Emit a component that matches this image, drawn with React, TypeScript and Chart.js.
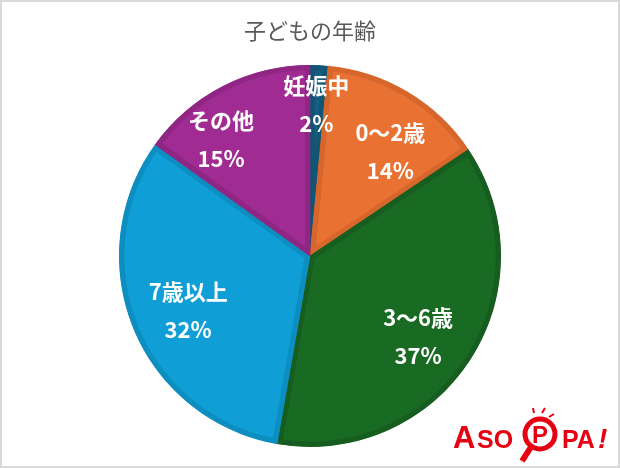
import React, { useEffect, useRef } from "react";
import { Chart, registerables } from "chart.js";

Chart.register(...registerables);

const TITLE = "子どもの年齢";
const categories = ["妊娠中", "0〜2歳", "3〜6歳", "7歳以上", "その他"];
const values = [1.5, 14, 37, 32, 15];
const colors = ["#156082", "#E97132", "#196B24", "#0F9ED5", "#A02B93"];
const borderColors = ["#125473", "#D6662C", "#165D1F", "#0D8EC0", "#8F2684"];
// per-slice label nudges (px) relative to mid-angle point at 70% radius
const labelOffsets = [
  [0, -18],
  [12, 11],
  [-4, 8],
  [2, 4],
  [-28, 3],
];

const FONT = '"Noto Sans CJK JP", "Noto Sans", sans-serif';

const overlayPlugin = {
  id: "overlay",
  afterDatasetsDraw(chart: any) {
    const ctx = chart.ctx as CanvasRenderingContext2D;
    const meta = chart.getDatasetMeta(0);
    const total = values.reduce((a, b) => a + b, 0);
    ctx.save();
    ctx.textAlign = "center";
    ctx.textBaseline = "middle";
    ctx.fillStyle = "#ffffff";
    ctx.font = `bold 22px ${FONT}`;
    meta.data.forEach((arc: any, i: number) => {
      const { x, y, startAngle, endAngle, outerRadius } = arc.getProps(
        ["x", "y", "startAngle", "endAngle", "outerRadius"],
        true
      );
      const mid = (startAngle + endAngle) / 2;
      const r = outerRadius * 0.7;
      const cx = x + Math.cos(mid) * r + labelOffsets[i][0];
      const cy = y + Math.sin(mid) * r + labelOffsets[i][1];
      const pct = Math.round((values[i] / total) * 100) + "%";
      ctx.fillText(categories[i], cx, cy - 19);
      ctx.fillText(pct, cx, cy + 19);
    });
    ctx.restore();
  },
  afterDraw(chart: any) {
    const ctx = chart.ctx as CanvasRenderingContext2D;
    const w = chart.width;
    const h = chart.height;
    ctx.save();
    // title
    ctx.fillStyle = "#595959";
    ctx.font = `22px ${FONT}`;
    ctx.textAlign = "center";
    ctx.textBaseline = "middle";
    ctx.fillText(TITLE, w / 2, 31);
    // frame
    ctx.strokeStyle = "#d9d9d9";
    ctx.lineWidth = 2;
    ctx.strokeRect(1, 1, w - 2, h - 2);
    // logo
    const red = "#E60012";
    const LOGO = '"Liberation Sans", Arial, sans-serif';
    ctx.fillStyle = red;
    ctx.strokeStyle = red;
    ctx.textAlign = "left";
    ctx.textBaseline = "alphabetic";
    ctx.font = `bold 31px ${LOGO}`;
    ctx.fillText("A", 453, 448);
    ctx.font = `bold 25px ${LOGO}`;
    ctx.fillText("SO", 477, 448);
    // magnifier P
    ctx.lineWidth = 5;
    ctx.beginPath();
    ctx.arc(540, 434, 15, 0, Math.PI * 2);
    ctx.stroke();
    ctx.lineWidth = 6;
    ctx.beginPath();
    ctx.moveTo(531, 447);
    ctx.lineTo(522, 461);
    ctx.stroke();
    ctx.font = `bold 24px ${LOGO}`;
    ctx.textAlign = "center";
    ctx.fillText("P", 540, 443);
    ctx.lineWidth = 2;
    ctx.beginPath();
    ctx.moveTo(534, 413); ctx.lineTo(533, 408);
    ctx.moveTo(542, 413); ctx.lineTo(545, 408);
    ctx.moveTo(549, 417); ctx.lineTo(554, 414);
    ctx.stroke();
    ctx.textAlign = "left";
    ctx.font = `bold 25px ${LOGO}`;
    ctx.fillText("PA", 562, 448);
    ctx.font = `italic bold 28px ${LOGO}`;
    ctx.fillText("!", 598, 448);
    ctx.restore();
  },
};

export default function App() {
  const ref = useRef<HTMLCanvasElement>(null);
  useEffect(() => {
    document.body.style.margin = "0";
    const chart = new Chart(ref.current!, {
      type: "pie",
      data: {
        labels: categories,
        datasets: [
          {
            data: values,
            backgroundColor: colors,
            borderColor: borderColors,
            borderWidth: 5,
            borderAlign: "inner",
          } as any,
        ],
      },
      options: {
        animation: false,
        responsive: false,
        maintainAspectRatio: false,
        layout: { padding: { top: 65, bottom: 21, left: 0, right: 0 } },
        plugins: {
          legend: { display: false },
          title: { display: false },
          tooltip: { enabled: false },
        },
      },
      plugins: [overlayPlugin],
    });
    return () => chart.destroy();
  }, []);
  return (
    <div style={{ width: 620, height: 468, background: "#fff" }}>
      <canvas ref={ref} width={620} height={468} style={{ display: "block" }} />
    </div>
  );
}
